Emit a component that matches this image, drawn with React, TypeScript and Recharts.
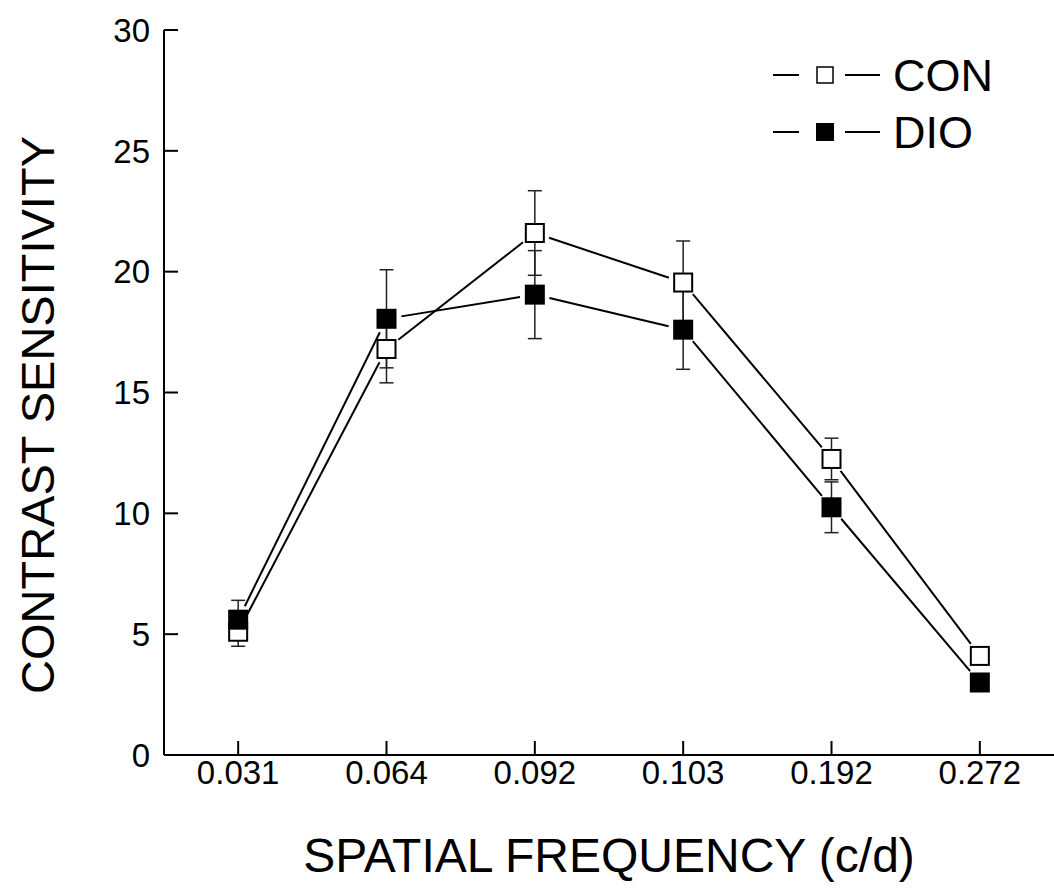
import React from 'react';
import { ComposedChart, Line, XAxis, YAxis, ErrorBar, Customized } from 'recharts';

// Contrast sensitivity per spatial frequency (mean ± error)
const frequencies = ['0.031', '0.064', '0.092', '0.103', '0.192', '0.272'];
const conMeans = [5.1, 16.8, 21.6, 19.55, 12.25, 4.1];
const conErrors = [0.6, 1.4, 1.75, 1.72, 0.86, 0.3];
const dioMeans = [5.6, 18.05, 19.05, 17.6, 10.25, 3.0];
const dioErrors = [0.8, 2.03, 1.82, 1.64, 1.05, 0.3];
const yTicks = [0, 5, 10, 15, 20, 25, 30];
const seriesNames = ['CON', 'DIO'];

const data = frequencies.map((freq, i) => ({
  freq,
  con: conMeans[i],
  conErr: conErrors[i],
  dio: dioMeans[i],
  dioErr: dioErrors[i],
}));

const FONT = '"Liberation Sans", Arial, Helvetica, sans-serif';
const MARK = 20; // marker edge length
const GAP = 15; // distance from a marker centre where the connecting line stops
const TICK_LEN = 14;
const TICK_FONT = 33;
const X_MARGIN = 29;
const Y_MARGIN = 14;

// Square marker plus the segment to the next point, trimmed at both ends
function squareDot(filled: boolean) {
  return (props: any) => {
    const { cx, cy, index, points } = props;
    if (cx == null || cy == null) return <g key={`e-${index}`} />;
    const next = points ? points[index + 1] : undefined;
    let seg = null;
    if (next && next.x != null && next.y != null) {
      const dx = next.x - cx;
      const dy = next.y - cy;
      const len = Math.hypot(dx, dy);
      if (len > 2 * GAP) {
        const ux = dx / len;
        const uy = dy / len;
        seg = (
          <line
            x1={cx + ux * GAP}
            y1={cy + uy * GAP}
            x2={next.x - ux * GAP}
            y2={next.y - uy * GAP}
            stroke="#000"
            strokeWidth={2}
          />
        );
      }
    }
    return (
      <g key={`m-${index}`}>
        {seg}
        {filled ? (
          <rect x={cx - MARK / 2} y={cy - MARK / 2} width={MARK} height={MARK} fill="#000" />
        ) : (
          <rect
            x={cx - MARK / 2 + 1}
            y={cy - MARK / 2 + 1}
            width={MARK - 2}
            height={MARK - 2}
            fill="#fff"
            stroke="#000"
            strokeWidth={2}
          />
        )}
      </g>
    );
  };
}

// Category tick: short inward tick above the axis line, label below
const XTick = (props: any) => {
  const { x, y, payload } = props;
  const axisY = y - X_MARGIN;
  return (
    <g>
      <line x1={x} x2={x} y1={axisY} y2={axisY - TICK_LEN} stroke="#000" strokeWidth={2} />
      <text x={x} y={y} textAnchor="middle" fontFamily={FONT} fontSize={TICK_FONT} fill="#000">
        {payload.value}
      </text>
    </g>
  );
};

// Value tick: inward tick to the right of the axis line, label on the left
const YTick = (props: any) => {
  const { x, y, payload } = props;
  const axisX = x + Y_MARGIN;
  return (
    <g>
      <line x1={axisX} x2={axisX + TICK_LEN} y1={y} y2={y} stroke="#000" strokeWidth={2} />
      <text x={x} y={y + 11.8} textAnchor="end" fontFamily={FONT} fontSize={TICK_FONT} fill="#000">
        {payload.value}
      </text>
    </g>
  );
};

// Legend (top right) and both axis titles
const Annotations = () => (
  <g fontFamily={FONT} fill="#000">
    {seriesNames.map((name, i) => {
      const cy = 75 + i * 57;
      const filled = i === 1;
      return (
        <g key={name}>
          <line x1={773} x2={799} y1={cy} y2={cy} stroke="#000" strokeWidth={2} />
          {filled ? (
            <rect x={816} y={cy - 9} width={18} height={18} fill="#000" />
          ) : (
            <rect x={817} y={cy - 8} width={16} height={16} fill="#fff" stroke="#000" strokeWidth={1.5} />
          )}
          <line x1={845} x2={880} y1={cy} y2={cy} stroke="#000" strokeWidth={2} />
          <text x={893} y={cy + 16} fontSize={45}>
            {name}
          </text>
        </g>
      );
    })}
    <text x={609} y={872} textAnchor="middle" fontSize={48}>
      SPATIAL FREQUENCY (c/d)
    </text>
    <text x={54} y={415} textAnchor="middle" fontSize={47} transform="rotate(-90, 54, 415)">
      CONTRAST SENSITIVITY
    </text>
  </g>
);

export default function App() {
  return (
    <div style={{ position: 'absolute', left: 0, top: 0, width: 1054, height: 891, background: '#fff' }}>
      <ComposedChart
        width={1054}
        height={891}
        data={data}
        margin={{ top: 30, right: 0, bottom: 56, left: 0 }}
      >
        <XAxis
          dataKey="freq"
          type="category"
          scale="band"
          height={80}
          tickSize={0}
          tickMargin={X_MARGIN}
          tickLine={false}
          tick={<XTick />}
          axisLine={{ stroke: '#000', strokeWidth: 2 }}
          interval={0}
        />
        <YAxis
          type="number"
          domain={[0, 30]}
          ticks={yTicks}
          width={164}
          tickSize={0}
          tickMargin={Y_MARGIN}
          tickLine={false}
          tick={<YTick />}
          axisLine={{ stroke: '#000', strokeWidth: 2 }}
          interval={0}
        />
        <Line
          dataKey="con"
          name="CON"
          stroke="none"
          isAnimationActive={false}
          dot={squareDot(false)}
          activeDot={false}
        >
          <ErrorBar dataKey="conErr" width={7} stroke="#222" strokeWidth={1.5} direction="y" />
        </Line>
        <Line
          dataKey="dio"
          name="DIO"
          stroke="none"
          isAnimationActive={false}
          dot={squareDot(true)}
          activeDot={false}
        >
          <ErrorBar dataKey="dioErr" width={7} stroke="#222" strokeWidth={1.5} direction="y" />
        </Line>
        <Customized component={Annotations} />
      </ComposedChart>
    </div>
  );
}
